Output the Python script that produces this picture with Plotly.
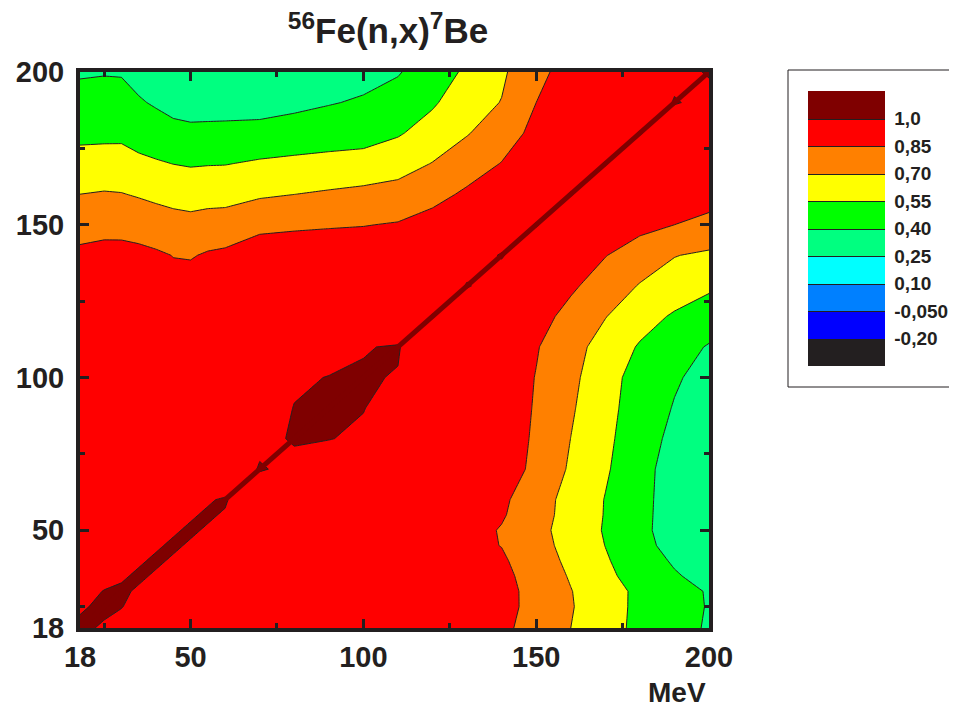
import plotly.graph_objects as go

# Energy grid (MeV)
energies = [18, 25, 30, 35, 40, 45, 50, 55, 60, 70, 80, 90, 100, 110, 120,
            130, 140, 150, 160, 170, 180, 190, 200]

# Upper triangle of the correlation matrix: row i holds corr(E[i], E[j]) for j > i
corr_upper = [
    [0.992, 0.985, 0.980, 0.975, 0.970, 0.965, 0.960, 0.955, 0.945, 0.935, 0.925, 0.916, 0.906, 0.896, 0.886, 0.877, 0.786, 0.695, 0.602, 0.508, 0.449, 0.379],
    [0.996, 0.986, 0.978, 0.973, 0.969, 0.965, 0.961, 0.952, 0.944, 0.935, 0.927, 0.918, 0.909, 0.901, 0.893, 0.798, 0.705, 0.608, 0.511, 0.455, 0.386],
    [0.991, 0.982, 0.978, 0.974, 0.970, 0.966, 0.959, 0.949, 0.940, 0.931, 0.921, 0.912, 0.902, 0.893, 0.797, 0.700, 0.606, 0.513, 0.452, 0.383],
    [0.991, 0.982, 0.977, 0.972, 0.967, 0.958, 0.948, 0.938, 0.929, 0.919, 0.910, 0.898, 0.883, 0.783, 0.683, 0.581, 0.478, 0.408, 0.350],
    [0.991, 0.982, 0.977, 0.973, 0.960, 0.946, 0.933, 0.919, 0.906, 0.892, 0.879, 0.865, 0.765, 0.664, 0.560, 0.460, 0.380, 0.340],
    [0.991, 0.982, 0.977, 0.966, 0.955, 0.943, 0.930, 0.917, 0.900, 0.880, 0.842, 0.747, 0.648, 0.543, 0.443, 0.343, 0.320],
    [0.991, 0.982, 0.975, 0.962, 0.950, 0.937, 0.925, 0.912, 0.900, 0.835, 0.738, 0.637, 0.533, 0.431, 0.330, 0.310],
    [0.991, 0.975, 0.958, 0.944, 0.930, 0.915, 0.900, 0.885, 0.860, 0.752, 0.644, 0.538, 0.434, 0.331, 0.310],
    [0.940, 0.952, 0.939, 0.926, 0.913, 0.899, 0.886, 0.873, 0.758, 0.646, 0.540, 0.436, 0.333, 0.310],
    [0.980, 0.975, 0.972, 0.963, 0.953, 0.944, 0.935, 0.804, 0.677, 0.562, 0.447, 0.330, 0.320],
    [0.996, 0.990, 0.981, 0.969, 0.956, 0.944, 0.819, 0.694, 0.577, 0.460, 0.360, 0.330],
    [0.996, 0.980, 0.975, 0.961, 0.948, 0.830, 0.712, 0.592, 0.472, 0.387, 0.345],
    [0.992, 0.965, 0.950, 0.930, 0.840, 0.729, 0.606, 0.482, 0.410, 0.350],
    [0.930, 0.935, 0.910, 0.855, 0.748, 0.637, 0.531, 0.450, 0.385],
    [0.930, 0.930, 0.900, 0.800, 0.700, 0.606, 0.527, 0.470],
    [0.960, 0.900, 0.868, 0.777, 0.686, 0.630, 0.570],
    [0.940, 0.910, 0.850, 0.775, 0.700, 0.670],
    [0.930, 0.920, 0.885, 0.845, 0.815],
    [0.930, 0.930, 0.910, 0.890],
    [0.930, 0.935, 0.920],
    [0.930, 0.945],
    [0.975],
]
diag_corr = 1.0

# Contour levels and legend labels
level_start, level_end, level_step = -0.205, 0.995, 0.15
level_values = [-0.205, -0.055, 0.095, 0.245, 0.395, 0.545, 0.695, 0.845, 0.995]
level_labels = ["-0,20", "-0,050", "0,10", "0,25", "0,40", "0,55", "0,70", "0,85", "1,0"]
band_colors = ["#231f20", "#0000ff", "#0080ff", "#00ffff", "#00ff80",
               "#00ff00", "#ffff00", "#ff8000", "#ff0000", "#7f0000"]

x_ticks = [18, 50, 100, 150, 200]
minor_ticks = [25, 75, 125, 175]

# Build symmetric matrix from the stored triangle
n = len(energies)
Z = [[diag_corr if i == j else None for j in range(n)] for i in range(n)]
for i, row in enumerate(corr_upper):
    for k, v in enumerate(row):
        j = i + 1 + k
        Z[i][j] = v
        Z[j][i] = v

nb = len(band_colors)
colorscale = []
for k, c in enumerate(band_colors):
    lo = max(0.0, (k - 0.5) / (nb - 1))
    hi = min(1.0, (k + 0.5) / (nb - 1))
    colorscale.append([lo, c])
    colorscale.append([hi, c])

FONT = "Liberation Sans, Arial, Helvetica, sans-serif"
INK = "#231f20"

# Page pixels (the html body adds an 8px margin all round)
OFF = 8
PAGE_W, PAGE_H = 957, 715
W, H = PAGE_W - OFF, PAGE_H - 2 * OFF
L, R, T, B = 80, 709, 72, 628          # plot area in page pixels
pw, ph = R - L, B - T


def px_x(p):
    return (p - L) / pw


def px_y(p):
    return (B - p) / ph


fig = go.Figure()
fig.add_trace(go.Contour(
    x=energies, y=energies, z=Z,
    autocontour=False,
    contours=dict(start=level_start, end=level_end, size=level_step,
                  coloring="fill", showlines=True),
    line=dict(color=INK, width=1, smoothing=0),
    colorscale=colorscale,
    zmin=level_start - level_step, zmax=level_end + level_step, zauto=False,
    hoverinfo="skip",
    colorbar=dict(
        thickness=77, thicknessmode="pixels",
        len=317, lenmode="pixels",
        x=px_x(788), xanchor="left",
        y=px_y(70), yanchor="top",
        xpad=20, ypad=21,
        outlinewidth=0,
        borderwidth=0, bgcolor="rgba(0,0,0,0)",
        tickmode="array", tickvals=level_values, ticktext=level_labels,
        ticks="outside", ticklen=6, tickwidth=0, tickcolor="white",
        tickfont=dict(family=FONT, size=19, color=INK, weight="bold"),
    ),
))

# diagonal (corr = 1)
fig.add_trace(go.Scatter(
    x=energies, y=energies, mode="lines",
    line=dict(color="#7f0000", width=5),
    hoverinfo="skip", showlegend=False,
))

axis_common = dict(
    range=[18, 200], tickmode="array", tickvals=x_ticks,
    ticktext=[str(v) for v in x_ticks],
    ticks="inside", ticklen=9, tickwidth=3, tickcolor=INK,
    minor=dict(tickmode="array", tickvals=minor_ticks, ticks="inside",
               ticklen=5, tickwidth=3, tickcolor=INK),
    showline=True, linewidth=4, linecolor=INK, mirror="allticks",
    showgrid=False, zeroline=False, automargin=False,
    tickfont=dict(family=FONT, size=29, color=INK, weight="bold"),
)
fig.update_xaxes(**axis_common)
fig.update_yaxes(**axis_common, ticklabelstandoff=6)

fig.update_layout(
    template="none",
    width=W, height=H, autosize=False,
    margin=dict(l=L - OFF, r=W - (R - OFF), t=T - OFF, b=H - (B - OFF),
                pad=0, autoexpand=False),
    paper_bgcolor="white", plot_bgcolor="white",
    showlegend=False,
    title=dict(text="<sup>56</sup>Fe(n,x)<sup>7</sup>Be",
               x=(388 - OFF) / W, xref="container", xanchor="center",
               y=1 - (31 - OFF) / H, yref="container", yanchor="middle",
               font=dict(family=FONT, size=35, color=INK, weight="bold")),
    annotations=[dict(text="MeV", x=px_x(677), xref="paper",
                      y=px_y(692), yref="paper",
                      xanchor="center", yanchor="middle", showarrow=False,
                      font=dict(family=FONT, size=28, color=INK, weight="bold"))],
    shapes=[dict(type="rect", xref="paper", yref="paper",
                 x0=px_x(788), x1=px_x(964), y0=px_y(387), y1=px_y(70),
                 line=dict(color=INK, width=1), fillcolor="rgba(0,0,0,0)",
                 layer="below")],
)

fig.write_html("out.html")
